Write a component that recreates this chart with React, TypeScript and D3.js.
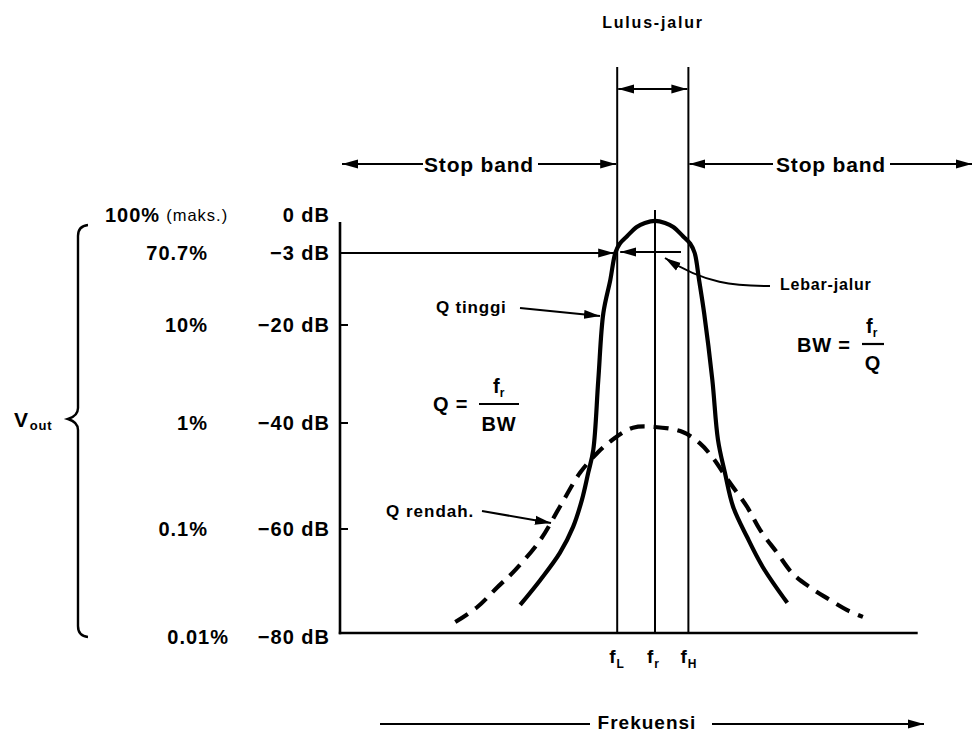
import { useEffect, useRef } from "react";
import * as d3 from "d3";

// y axis: schematic dB ticks with the matching Vout percentages
const dbTicks = [0, -3, -20, -40, -60, -80];
const dbLabels = ["0 dB", "\u22123 dB", "\u221220 dB", "\u221240 dB", "\u221260 dB", "\u221280 dB"];
const pctLabels = ["100%", "70.7%", "10%", "1%", "0.1%", "0.01%"];

// frequency axis in arbitrary units, fr = 50
const freqMarks = [44, 50, 55.3];
const freqSubs = ["L", "r", "H"];

// Q tinggi (solid curve)
const highQFreq = [28.6, 31.8, 34.9, 37.0, 38.4, 39.4, 40.2, 41.0, 41.8, 42.9, 43.7, 44.4, 45.6, 47.1, 48.4, 50, 51.6, 52.9, 54.4, 55.6, 56.3, 57.0, 57.8, 59.1, 60.0, 61.1, 62.4, 64.6, 67.1, 71.0];
const highQdB = [-74.6, -69.8, -64.6, -59.6, -54.5, -49.4, -45.1, -31.2, -17.2, -9.4, -3, -2.1, -1.35, -0.48, -0.1, 0.1, -0.1, -0.48, -1.35, -2.1, -3, -9.4, -17.2, -31.2, -43.2, -49.4, -55.8, -61.5, -67.3, -74.2];

// Q rendah (dashed curve)
const lowQFreq = [18.3, 21.8, 24.9, 27.8, 31.8, 34.9, 38.1, 40.8, 43.2, 46.5, 50, 54.4, 57.1, 59.2, 61.6, 64.6, 66.7, 69.4, 71.8, 74.6, 77.3, 80.5, 83.0];
const lowQdB = [-77.9, -75.0, -71.3, -67.9, -62.1, -55.8, -49.4, -45.7, -43.2, -40.9, -40.75, -41.7, -43.8, -46.6, -50.8, -55.8, -60.2, -64.6, -68.5, -71.2, -73.3, -75.6, -76.9];

const FONT = "'Liberation Sans', Arial, Helvetica, sans-serif";

export default function App() {
    const svgRef = useRef<SVGSVGElement>(null);

    useEffect(() => {
        const svg = d3.select(svgRef.current);
        svg.selectAll("*").remove();

        const x = d3.scaleLinear().domain([0, 100]).range([340, 970]);
        const y = d3.scaleLinear().domain(dbTicks).range([222, 253, 325, 423, 529, 633]);
        const x0 = x(0);
        const yBase = y(-80);

        const defs = svg.append("defs");
        defs.append("marker")
            .attr("id", "arr")
            .attr("viewBox", "0 0 16 10")
            .attr("refX", 16)
            .attr("refY", 5)
            .attr("markerWidth", 16)
            .attr("markerHeight", 10)
            .attr("markerUnits", "userSpaceOnUse")
            .attr("orient", "auto-start-reverse")
            .append("path")
            .attr("d", "M0,0.5 L16,5 L0,9.5 z")
            .attr("fill", "#000");

        const g = svg.append("g").attr("font-family", FONT).attr("font-weight", "bold").attr("fill", "#000");

        const line = (x1: number, y1: number, x2: number, y2: number, w = 2, start = false, end = false) => {
            const l = g.append("line")
                .attr("x1", x1).attr("y1", y1).attr("x2", x2).attr("y2", y2)
                .attr("stroke", "#000").attr("stroke-width", w);
            if (start) l.attr("marker-start", "url(#arr)");
            if (end) l.attr("marker-end", "url(#arr)");
            return l;
        };
        const text = (s: string, tx: number, ty: number, size: number, anchor = "start", ls = 0.8) =>
            g.append("text")
                .attr("x", tx).attr("y", ty)
                .attr("font-size", size)
                .attr("text-anchor", anchor)
                .attr("dominant-baseline", "central")
                .attr("letter-spacing", ls)
                .text(s);

        // axes
        line(x0, y(0), x0, yBase + 1.2, 2.6);
        line(x0 - 1.2, yBase, x(91.7), yBase, 2.6);

        // y ticks and labels
        dbTicks.forEach((d, i) => {
            if (d <= -20 && d > -80) line(x0, y(d), x0 + 8, y(d), 2);
            const ly = d === -80 ? y(d) + 4 : d === 0 ? y(d) - 7 : y(d);
            text(dbLabels[i], x0 - 10, ly, 20, "end", 1);
            if (i === 0) {
                const t = text(pctLabels[i], 105, ly, 20, "start", 1);
                t.append("tspan").attr("font-size", 16.5).attr("font-weight", "normal").attr("dx", 6).text("(maks.)");
            } else {
                text(pctLabels[i], i === 5 ? 229 : 208, ly, 20, "end", 1);
            }
        });

        // Vout brace
        g.append("path")
            .attr("d", "M88,225 Q78,226 78,236 L78,408 Q78,416 68,419 Q78,422 78,430 L78,626 Q78,636 88,637")
            .attr("fill", "none").attr("stroke", "#000").attr("stroke-width", 2.4);
        const vt = text("V", 14, 419, 21, "start");
        vt.append("tspan").attr("font-size", 13).attr("dy", 6).attr("dx", 1).text("out");

        // vertical frequency marks
        freqMarks.forEach((f, i) => {
            line(x(f), i === 1 ? 210 : 67, x(f), yBase, 2);
            const t = g.append("text")
                .attr("x", x(f) - 8).attr("y", yBase + 30)
                .attr("font-size", 19)
                .text("f");
            t.append("tspan").attr("font-size", 12).attr("dy", 5).attr("dx", 1).text(freqSubs[i]);
        });

        // passband arrow and label
        line(x(freqMarks[0]) + 1, 89, x(freqMarks[2]) - 1, 89, 2, true, true);
        text("Lulus-jalur", x(50) - 2, 22, 16, "middle", 1.8);

        // stop band arrows
        const sbY = 164;
        line(x0 + 2, sbY, 423, sbY, 2, true, false);
        text("Stop band", 479, sbY, 21, "middle");
        line(538, sbY, x(freqMarks[0]) - 1, sbY, 2, false, true);
        line(773, sbY, x(freqMarks[2]) + 1, sbY, 2, false, true);
        text("Stop band", 831, sbY, 21, "middle");
        line(890, sbY, 972, sbY, 2, false, true);

        // -3 dB line and bandwidth arrow
        line(x0, y(-3), x(freqMarks[0]) - 3, y(-3), 2.2, false, true);
        line(681, y(-3) - 1, x(freqMarks[0]) + 3, y(-3) - 1, 2.2, false, true);

        // curves
        const curve = d3.line<[number, number]>()
            .x(d => x(d[0]))
            .y(d => y(d[1]))
            .curve(d3.curveCatmullRom.alpha(0.5));
        g.append("path")
            .datum(highQFreq.map((f, i) => [f, highQdB[i]] as [number, number]))
            .attr("d", curve)
            .attr("fill", "none").attr("stroke", "#000").attr("stroke-width", 4.2);
        g.append("path")
            .datum(lowQFreq.map((f, i) => [f, lowQdB[i]] as [number, number]))
            .attr("d", curve)
            .attr("fill", "none").attr("stroke", "#000").attr("stroke-width", 4.2)
            .attr("stroke-dasharray", "15 9");

        // annotations
        g.append("path")
            .attr("d", "M770,286 C735,286 705,284 665,258")
            .attr("fill", "none").attr("stroke", "#000").attr("stroke-width", 2)
            .attr("marker-end", "url(#arr)");
        text("Lebar-jalur", 780, 284, 16, "start");

        text("Q tinggi", 436, 307, 17, "start");
        line(520, 308, 600, 316, 2, false, true);

        text("Q rendah.", 386, 511, 17, "start", 1);
        line(482, 511, 551, 523, 2, false, true);

        // BW = fr / Q
        text("BW =", 797, 345, 20, "start");
        line(862, 344, 884, 344, 2.2);
        const f1 = g.append("text").attr("x", 866).attr("y", 333).attr("font-size", 20).text("f");
        f1.append("tspan").attr("font-size", 12).attr("dy", 4).text("r");
        text("Q", 873, 363, 20, "middle");

        // Q = fr / BW
        text("Q =", 433, 404, 20, "start");
        line(479, 404, 519, 404, 2.2);
        const f2 = g.append("text").attr("x", 493).attr("y", 393).attr("font-size", 20).text("f");
        f2.append("tspan").attr("font-size", 12).attr("dy", 4).text("r");
        text("BW", 499, 424, 20, "middle");

        // frequency direction
        const fqY = 724;
        line(380, fqY, 590, fqY, 2);
        text("Frekuensi", 647, fqY - 2, 19, "middle", 1);
        line(712, fqY, 924, fqY, 2, false, true);
    }, []);

    return (
        <div style={{ position: "absolute", left: 0, top: 0, background: "#fff" }}>
            <svg ref={svgRef} width={974} height={734} style={{ display: "block" }} />
        </div>
    );
}
